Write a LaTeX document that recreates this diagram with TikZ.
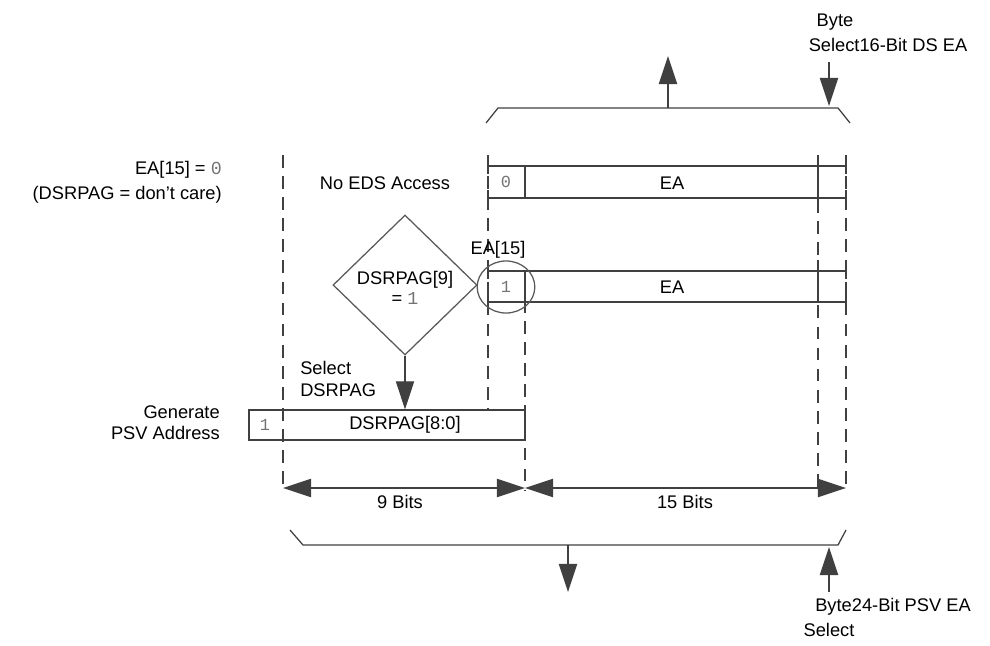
\documentclass[tikz,border=0pt]{standalone}
\usepackage{fontspec}
\setmainfont{Liberation Sans}
\setmonofont{Liberation Mono}
\usetikzlibrary{arrows.meta,shapes.geometric}
\begin{document}
\begin{tikzpicture}[x=0.025cm,y=-0.025cm,
  ln/.style={draw=black!75,line width=0.9pt},
  dsh/.style={draw=black!75,line width=0.9pt,dash pattern=on 9pt off 6pt},
  arr/.style={ln,-{Triangle[length=20pt,width=13pt]}},
  darr/.style={ln,{Triangle[length=20pt,width=13pt]}-{Triangle[length=20pt,width=13pt]}},
  txt/.style={font=\fontsize{13}{15}\selectfont,inner sep=0pt,align=center},
  dig/.style={font=\ttfamily\fontsize{12}{14}\selectfont,text=black!55,inner sep=0pt}]
\useasboundingbox (0,0) rectangle (990,645);
% dashed guides
\draw[dsh] (283,155) -- (283,490);
\draw[dsh] (488,155) -- (488,410);
\draw[dsh] (525,300) -- (525,490);
\draw[dsh] (818,200) -- (818,490);
\draw[dsh] (846,155) -- (846,490);
% top bracket
\coordinate (tb1) at (486,123); \coordinate (tb2) at (498,108);
\coordinate (tb3) at (838,108); \coordinate (tb4) at (850,123);
\draw[ln] (tb1) -- (tb2) -- (tb3) -- (tb4);
\coordinate (upS) at (668,108); \coordinate (upE) at (668,56);
\draw[arr] (upS) -- (upE);
\coordinate (dnS) at (829,62); \coordinate (dnE) at (829,106);
\draw[arr] (dnS) -- (dnE);
\node[txt] (byte1) at (835,22) {Byte};
\node[txt] (sel16) at (888,45) {Select16-Bit DS EA};
% row 1
\draw[ln] (488,166) -- (846,166) (488,198) -- (846,198);
\draw[ln] (525,166) -- (525,198) (818,155) -- (818,200);
\draw[ln] (488,158)--(488,174) (846,158)--(846,174) (488,190)--(488,206) (846,190)--(846,206);
\node[dig] (z0) at (506,182) {0};
\node[txt] (ea1) at (672,183) {EA};
\node[txt] (nod) at (385,183) {No EDS Access};
% row 2
\draw[ln] (488,271) -- (846,271) (488,302) -- (846,302);
\draw[ln] (525,271) -- (525,302) (818,260) -- (818,302);
\draw[ln] (488,263)--(488,279) (846,263)--(846,279) (488,294)--(488,310) (846,294)--(846,310);
\node[dig] (z1) at (506,287) {1};
\node[txt] (ea2) at (672,287) {EA};
\node[draw=black!65,line width=0.9pt,ellipse,minimum width=41pt,minimum height=37pt,inner sep=0pt] (circ) at (506,287) {};
\node[txt] (ea15) at (498,250) {EA[15]};
% diamond
\node[diamond,draw=black!65,line width=0.9pt,minimum width=144*0.025cm,minimum height=140*0.025cm,inner sep=0pt] (dia) at (405,285) {};
\node[txt] at (405,280) {DSRPAG[9]};
\node[txt] at (405,298) {= \textcolor{black!55}{\ttfamily 1}};
% bottom box
\node[draw=black!75,line width=0.9pt,minimum width=276*0.025cm,minimum height=30*0.025cm,inner sep=0pt] (box) at (387,425) {};
\node[txt] at (405,425) {DSRPAG[8:0]};
\node[dig] at (265,425) {1};
\draw[arr] (dia.south) -- (box.north -| dia.south);
\node[txt,align=left,anchor=west] (seld) at (300,379) {Select\\DSRPAG};
\node[txt,align=right,anchor=east] (eaz) at (222,170) {EA[15] = \textcolor{black!55}{\ttfamily 0}};
\node[txt,align=right,anchor=east] (dc) at (222,195) {(DSRPAG = don’t care)};
\node[txt,align=right,anchor=east] (gen) at (220,423) {Generate\\PSV Address};
% dimensions
\coordinate (d1) at (283,488); \coordinate (d2) at (525,488); \coordinate (d3) at (846,488);
\draw[darr] (d1) -- (d2);
\draw[darr] (d2) -- (d3);
\node[txt] (nb) at (400,502) {9 Bits};
\node[txt] (fb) at (685,502) {15 Bits};
% bottom bracket
\coordinate (bb1) at (290,530); \coordinate (bb2) at (303,545);
\coordinate (bb3) at (838,545); \coordinate (bb4) at (846,530);
\draw[ln] (bb1) -- (bb2) -- (bb3) -- (bb4);
\coordinate (bdS) at (568,545); \coordinate (bdE) at (568,592);
\draw[arr] (bdS) -- (bdE);
\coordinate (buS) at (829,592); \coordinate (buE) at (829,547);
\draw[arr] (buS) -- (buE);
\node[txt] (b24) at (893,607) {Byte24-Bit PSV EA};
\node[txt] (sel) at (829,630) {Select};
\end{tikzpicture}
\end{document}
